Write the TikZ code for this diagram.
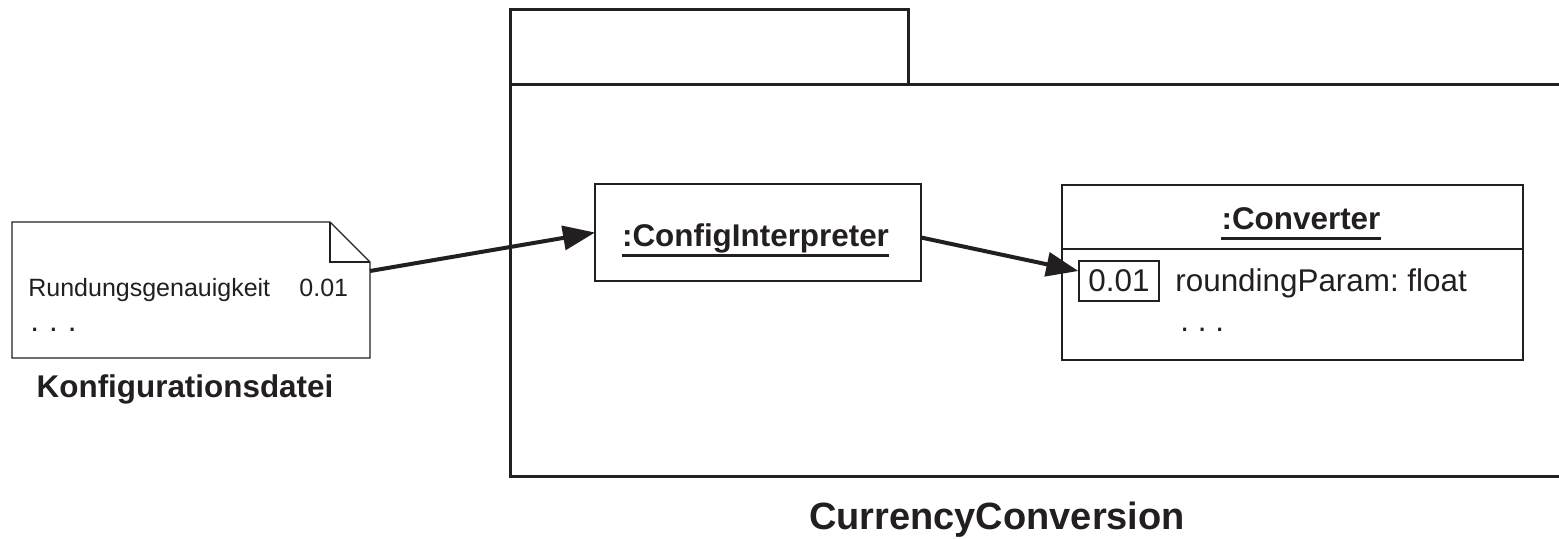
\documentclass[tikz,border=0pt]{standalone}
\usepackage{fontspec}
\setmainfont{Liberation Sans}
\usetikzlibrary{arrows.meta}
\definecolor{ink}{HTML}{231F20}
\frenchspacing
\begin{document}
\begin{tikzpicture}[x=0.5pt,y=-0.5pt,
  thinline/.style={draw=ink,line width=0.7pt},
  pkgline/.style={draw=ink,line width=1.5pt},
  flow/.style={draw=ink,line width=2pt,-{Triangle[length=16pt,width=12pt]}},
  small/.style={font=\fontsize{12.5pt}{15pt}\selectfont,text=ink,inner sep=0pt},
  normal/.style={font=\fontsize{15.7pt}{19pt}\selectfont,text=ink,inner sep=0pt},
  bnormal/.style={font=\fontsize{15.7pt}{19pt}\selectfont\bfseries,text=ink,inner sep=0pt},
  big/.style={font=\fontsize{19pt}{23pt}\selectfont\bfseries,text=ink,inner sep=0pt},
  uline/.style={draw=ink,line width=1.5pt},
  boxnode/.style={inner sep=0pt,outer sep=0pt}]
\useasboundingbox (0,0) rectangle (1559,539);

% package CurrencyConversion
\draw[pkgline] (510,10) rectangle (908,85);
\draw[pkgline] (1559,85) -- (510,85) -- (510,477) -- (1559,477);
\node[big,anchor=base] (pkgname) at (997,530) {CurrencyConversion};

% note (configuration file)
\node[boxnode,minimum width=179pt,minimum height=68pt] (note) at (191,290) {};
\draw[thinline] (note.north west) -- ([xshift=-20pt]note.north east)
  -- ([yshift=-20pt]note.north east) -- (note.south east) -- (note.south west) -- cycle;
\draw[thinline] ([xshift=-20pt]note.north east) |- ([yshift=-20pt]note.north east);
\node[small,anchor=base west] (rg) at (28,297) {Rundungsgenauigkeit};
\node[small,anchor=base west] (rgval) at (299,297) {0.01};
\node[normal,anchor=base west] (ndots) at (30,332) {.\hspace{5pt}.\hspace{5pt}.};
\node[bnormal,anchor=base] (notename) at (185,398) {Konfigurationsdatei};

% ConfigInterpreter
\node[boxnode,thinline,minimum width=163pt,minimum height=48.5pt] (ci) at (758,232.5) {};
\node[bnormal,anchor=base] (citext) at (755.5,247) {:ConfigInterpreter};
\draw[uline] ([yshift=-4.5pt]citext.base west) -- ([yshift=-4.5pt]citext.base east);

% Converter
\node[boxnode,thinline,minimum width=230.5pt,minimum height=87.5pt] (conv) at (1292.5,272.5) {};
\coordinate (divy) at (0,249);
\draw[thinline] (conv.west |- divy) -- (conv.east |- divy);
\node[bnormal,anchor=base] (convtext) at (1301,230) {:Converter};
\draw[uline] ([yshift=-4.5pt]convtext.base west) -- ([yshift=-4.5pt]convtext.base east);
\node[normal,thinline,inner sep=0pt,minimum width=40pt,minimum height=20pt] (val) at (1119,281) {0.01};
\node[normal,anchor=base west] (attr) at (1175,292) {roundingParam: float};
\node[normal,anchor=base west] (cdots) at (1180,332) {. . .};

% connectors
\draw[flow] ([yshift=9.5pt]note.east) -- (ci.west);
\draw[flow] ([yshift=-2.5pt]ci.east) -- ([yshift=5pt]val.west);
\end{tikzpicture}
\end{document}
